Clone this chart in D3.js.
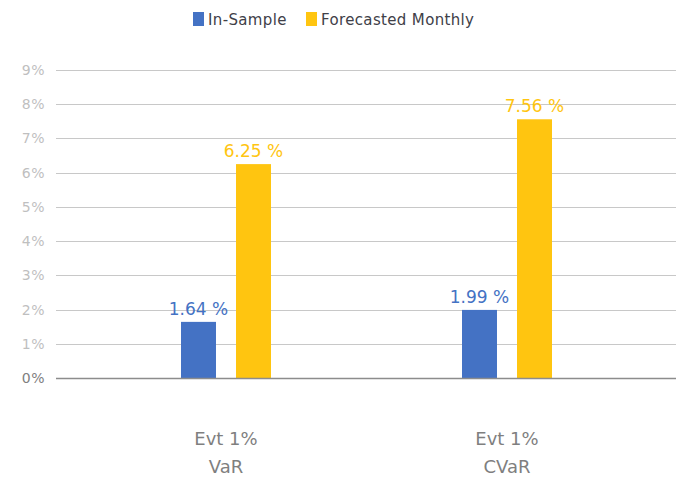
<!DOCTYPE html>
<html>
<head>
<meta charset="utf-8">
<script src="https://cdn.jsdelivr.net/npm/d3@7/dist/d3.min.js"></script>
<style>
  body { margin: 0; background: #fff; }
  svg { font-family: "DejaVu Sans", sans-serif; }
</style>
</head>
<body>
<div id="chart"></div>
<script>
const categories = [["Evt 1%", "VaR"], ["Evt 1%", "CVaR"]];
const series = ["In-Sample", "Forecasted Monthly"];
const colors = ["#4472c4", "#ffc510"];
const inSample = [1.64, 1.99];
const forecasted = [6.25, 7.56];
const yTicks = [0, 1, 2, 3, 4, 5, 6, 7, 8, 9];

const width = 682, height = 477;
const svg = d3.select("#chart").append("svg")
  .attr("width", width).attr("height", height);

const plotLeft = 56, plotRight = 676;
const y = d3.scaleLinear().domain([0, 9]).range([378, 70]);
const x0 = d3.scaleBand().domain(d3.range(categories.length)).range([85.5, 647.5]);
const x1 = d3.scaleBand().domain(series).range([-45, 45]).paddingInner(0.364);

// gridlines
svg.append("g").selectAll("line")
  .data(yTicks.filter(d => d > 0))
  .join("line")
  .attr("x1", plotLeft).attr("x2", plotRight)
  .attr("y1", d => Math.round(y(d)) + 0.5).attr("y2", d => Math.round(y(d)) + 0.5)
  .attr("stroke", "#c8c8c8").attr("stroke-width", 1);

// y tick labels
svg.append("g").selectAll("text")
  .data(yTicks)
  .join("text")
  .attr("x", 45).attr("y", d => y(d) + 5)
  .attr("text-anchor", "end")
  .attr("font-size", 14)
  .attr("letter-spacing", 0.5)
  .attr("fill", d => d === 0 ? "#808080" : "#bfbfbf")
  .text(d => d + "%");

// bars
const rows = categories.map((c, i) => [inSample[i], forecasted[i]]);
const groups = svg.append("g").selectAll("g")
  .data(rows)
  .join("g")
  .attr("transform", (d, i) => `translate(${x0(i) + x0.bandwidth() / 2},0)`);

groups.selectAll("rect")
  .data(d => d.map((v, j) => ({ v, s: series[j], c: colors[j] })))
  .join("rect")
  .attr("x", d => x1(d.s))
  .attr("width", x1.bandwidth())
  .attr("y", d => y(d.v))
  .attr("height", d => y(0) - y(d.v))
  .attr("fill", d => d.c);

groups.selectAll("text")
  .data(d => d.map((v, j) => ({ v, s: series[j], c: colors[j] })))
  .join("text")
  .attr("x", d => x1(d.s) + x1.bandwidth() / 2)
  .attr("y", d => y(d.v) - 7)
  .attr("text-anchor", "middle")
  .attr("font-size", 17)
  .attr("fill", d => d.c)
  .text(d => d.v.toFixed(2) + " %");

// zero line
svg.append("line")
  .attr("x1", plotLeft).attr("x2", plotRight)
  .attr("y1", y(0) + 0.5).attr("y2", y(0) + 0.5)
  .attr("stroke", "#8c8c8c").attr("stroke-width", 1.3);

// category labels
const cat = svg.append("g").selectAll("text")
  .data(categories)
  .join("text")
  .attr("text-anchor", "middle")
  .attr("font-size", 18)
  .attr("fill", "#7f7f7f");
cat.append("tspan")
  .attr("x", (d, i) => x0(i) + x0.bandwidth() / 2).attr("y", 445)
  .text(d => d[0]);
cat.append("tspan")
  .attr("x", (d, i) => x0(i) + x0.bandwidth() / 2).attr("y", 473)
  .text(d => d[1]);

// legend
const legendX = [193, 306];
const legend = svg.append("g").selectAll("g")
  .data(series)
  .join("g")
  .attr("transform", (d, i) => `translate(${legendX[i]},12)`);
legend.append("rect")
  .attr("width", 11).attr("height", 14)
  .attr("fill", (d, i) => colors[i]);
legend.append("text")
  .attr("x", 15).attr("y", 13)
  .attr("font-size", 15)
  .attr("letter-spacing", 0.35)
  .attr("fill", "#404048")
  .text(d => d);
</script>
</body>
</html>
